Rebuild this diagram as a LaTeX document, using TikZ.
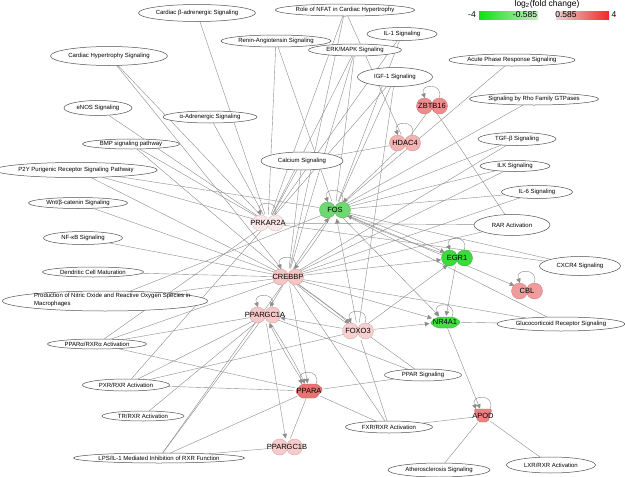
\documentclass[tikz,border=0pt]{standalone}
\usepackage{fontspec}
\setmainfont{Liberation Sans}
\usetikzlibrary{shapes.geometric,arrows.meta,backgrounds}
\definecolor{edgegray}{HTML}{8C8C8C}
\definecolor{ellgray}{HTML}{505050}
\definecolor{cfos}{HTML}{70D870}
\definecolor{cegr}{HTML}{3ADC3A}
\definecolor{cnr}{HTML}{44DD44}
\definecolor{czbtb}{HTML}{EE8C8C}
\definecolor{chdac}{HTML}{F3B3B3}
\definecolor{ccreb}{HTML}{F5C5C5}
\definecolor{cprk}{HTML}{FBE9E9}
\definecolor{cpgc}{HTML}{F6C8C8}
\definecolor{cfoxo}{HTML}{F8D0D0}
\definecolor{cppara}{HTML}{EC7272}
\definecolor{cpgcb}{HTML}{F7CBCB}
\definecolor{ccbl}{HTML}{F19C9C}
\definecolor{capod}{HTML}{EE8080}
\definecolor{lgA}{HTML}{10E010}
\definecolor{lgB}{HTML}{C4EDC4}
\definecolor{lrA}{HTML}{E6D2D2}
\definecolor{lrB}{HTML}{F02828}
\newcommand\pwfont{\fontsize{6}{8}\selectfont}
\newcommand\gnfont{\fontsize{7.5}{8}\selectfont}
\newcommand\pw[6]{\node[pathway, minimum width=#4pt, minimum height=#5pt] (#1) at (#2,-#3) {#6};}
\newcommand\gene[5]{%
  \path[fill=#4, draw=#4!80!black, line width=0.3pt] (#2-7.5,-#3) circle[radius=8] (#2+7.5,-#3) circle[radius=8];
  \node[genebox, label={[genelbl]center:#5}] (#1) at (#2,-#3) {};}
\newcommand\selfloop[2]{\draw[edge,arr] ([shift={(7,#2)}]#1.center) .. controls +(6,15) and +(-6,15) .. ([shift={(-7,#2)}]#1.center);}
\begin{document}
\begin{tikzpicture}[x=1pt,y=1pt,
  pathway/.style={ellipse, draw=ellgray, fill=white, line width=0.5pt, inner sep=0pt, font=\pwfont},
  genebox/.style={ellipse, minimum width=32pt, minimum height=17pt, inner sep=0pt},
  genelbl/.style={font=\gnfont, inner sep=0pt},
  edge/.style={draw=edgegray, line width=0.4pt},
  arr/.style={-{Triangle[length=4.5pt,width=4.5pt]}},
  legtext/.style={font=\fontsize{8.5}{9}\selectfont, inner sep=0pt}]
\useasboundingbox (0,0) rectangle (625,-477);
% pathways
\pw{cbeta}{197}{13}{117}{17}{Cardiac β-adrenergic Signaling}
\pw{nfat}{345}{10}{134}{12}{Role of NFAT in Cardiac Hypertrophy}
\pw{chyp}{109}{56}{117}{19}{Cardiac Hypertrophy Signaling}
\pw{renin}{276}{41}{110}{12}{Renin-Angiotensin Signaling}
\pw{il1}{402}{34}{70}{13}{IL-1 Signaling}
\pw{erk}{355}{50}{93}{12}{ERK/MAPK Signaling}
\pw{igf}{395}{77}{75}{19}{IGF-1 Signaling}
\pw{acute}{512}{60}{125}{12}{Acute Phase Response Signaling}
\pw{enos}{98}{108}{68}{15}{eNOS Signaling}
\pw{alpha}{210}{117}{94}{12}{α-Adrenergic Signaling}
\pw{rho}{534}{99}{128}{12}{Signaling by Rho Family GTPases}
\pw{bmp}{131}{144}{97}{10}{BMP signaling pathway}
\pw{tgfb}{517}{139}{78}{13}{TGF-β Signaling}
\pw{calcium}{302}{161}{82}{18}{Calcium Signaling}
\pw{p2y}{76}{170}{152}{15}{P2Y Purigenic Receptor Signaling Pathway}
\pw{ilk}{515}{166}{70}{11}{ILK Signaling}
\pw{il6}{537}{192}{71}{13}{IL-6 Signaling}
\pw{wnt}{78}{203}{99}{11}{Wnt/β-catenin Signaling}
\pw{rar}{512}{225}{76}{21}{RAR Activation}
\pw{nfkb}{83}{238}{79}{13}{NF-κB Signaling}
\pw{cxcr4}{580}{266}{81}{19}{CXCR4 Signaling}
\pw{dend}{93}{272}{101}{10}{Dendritic Cell Maturation}
\pw{prod}{105}{301}{205}{20}{}
\node[font=\pwfont, inner sep=0pt, anchor=north west, align=left] (prodlbl) at (34,-293) {Production of Nitric Oxide and Reactive Oxygen Species in\\Macrophages};
\pw{gluc}{561}{324}{126}{14}{Glucocorticoid Receptor Signaling}
\pw{pparax}{97}{344}{99}{10}{PPARα/RXRα Activation}
\pw{pparsig}{423}{375}{77}{12}{PPAR Signaling}
\pw{pxr}{126}{385}{87}{12}{PXR/RXR Activation}
\pw{tr}{143}{416}{82}{10}{TR/RXR Activation}
\pw{fxr}{389}{427}{87}{12}{FXR/RXR Activation}
\pw{lps}{159}{458}{155}{10}{LPS/IL-1 Mediated Inhibition of RXR Function}
\pw{lxr}{551}{465}{89}{16}{LXR/RXR Activation}
\pw{athero}{439}{470}{102}{14}{Atherosclerosis Signaling}
% genes
\gene{zbtb16}{432}{106}{czbtb}{ZBTB16}
\gene{hdac4}{405}{143}{chdac}{HDAC4}
\gene{fos}{335}{210}{cfos}{FOS}
\gene{prkar2a}{268}{223}{cprk}{PRKAR2A}
\gene{egr1}{457}{258}{cegr}{EGR1}
\gene{crebbp}{288}{277}{ccreb}{CREBBP}
\gene{cbl}{527}{291}{ccbl}{CBL}
\gene{ppargc1a}{265}{315}{cpgc}{PPARGC1A}
\gene{foxo3}{358}{331}{cfoxo}{FOXO3}
\gene{ppargc1b}{287}{447}{cpgcb}{PPARGC1B}
\fill[cppara, draw=cppara!80!black, line width=0.3pt, rounded corners=1.5pt] (295,-391) -- (302,-384) -- (317,-384) -- (323,-389) -- (316,-398) -- (301,-398) -- cycle;
\node[genebox, minimum width=30pt, minimum height=15pt, label={[genelbl]center:PPARA}] (ppara) at (309,-391) {};
\fill[cnr, draw=cnr!80!black, line width=0.3pt, rounded corners=2pt] (430,-323) -- (437,-317) -- (454,-317) -- (461,-322) -- (454,-328) -- (437,-328) -- cycle;
\node[genebox, minimum width=32pt, minimum height=12pt, label={[genelbl]center:NR4A1}] (nr4a1) at (445,-322) {};
\fill[capod, draw=capod!80!black, line width=0.3pt, rounded corners=2pt] (474,-409) -- (492,-409) -- (488,-422) -- (478,-422) -- cycle;
\node[genebox, minimum width=20pt, minimum height=15pt, label={[genelbl]center:APOD}] (apod) at (483,-416) {};
% legend
\shade[left color=lgA, right color=lgB] (479,-11) rectangle (538,-19);
\shade[left color=lrA, right color=lrB] (556,-11) rectangle (609,-19);
\node[legtext] (legtitle) at (547,-4) {log\textsubscript{2}(fold change)};
\node[legtext] (legm4) at (472,-15) {-4};
\node[legtext] (legmlo) at (525,-15) {-0.585};
\node[legtext] (legplo) at (566,-15) {0.585};
\node[legtext] (legp4) at (614,-15) {4};
% edges
\begin{pgfonlayer}{background}
\fill[white] (0,0) rectangle (625,-477);
\foreach \a/\b in {cbeta/prkar2a, chyp/prkar2a, chyp/crebbp, enos/prkar2a, bmp/prkar2a, bmp/crebbp,
  alpha/prkar2a, nfat/prkar2a, nfat/hdac4, nfat/crebbp, renin/prkar2a, renin/fos,
  erk/prkar2a, erk/crebbp, erk/fos, il1/prkar2a, il1/fos, igf/prkar2a, igf/fos, igf/foxo3,
  calcium/prkar2a, calcium/crebbp, calcium/hdac4, acute/fos, rho/fos, tgfb/fos, tgfb/crebbp,
  ilk/fos, ilk/crebbp, il6/fos, il6/crebbp, rar/prkar2a, rar/crebbp, rar/zbtb16,
  cxcr4/prkar2a, cxcr4/fos, gluc/fos, gluc/crebbp, gluc/nr4a1,
  p2y/fos, p2y/prkar2a, p2y/crebbp, wnt/crebbp, nfkb/crebbp, dend/crebbp, prod/fos, prod/crebbp,
  pparax/prkar2a, pparax/crebbp, pparax/ppara, pparax/ppargc1a,
  pxr/prkar2a, pxr/ppargc1a, pxr/foxo3, pxr/ppara, tr/ppargc1a,
  lps/ppargc1a, lps/ppara, lps/ppargc1b, lps/crebbp,
  pparsig/ppara, pparsig/crebbp, pparsig/ppargc1a,
  fxr/ppara, fxr/foxo3, fxr/apod, fxr/crebbp, athero/apod, lxr/apod,
  zbtb16/hdac4, ppargc1b/ppara}
  \draw[edge] (\a) -- (\b);
\foreach \a/\b in {hdac4/fos, crebbp/egr1, foxo3/egr1, foxo3/fos, crebbp/ppargc1a, crebbp/nr4a1,
  fos/nr4a1, egr1/nr4a1, foxo3/nr4a1, nr4a1/apod, ppargc1a/ppargc1b, foxo3/ppargc1a,
  crebbp/ppara, fos/cbl}
  \draw[edge,arr] (\a) -- (\b);
\draw[edge,arr] (egr1) to[bend left=3] (fos);
\draw[edge,arr] (fos) to[bend left=3] (egr1);
\draw[edge,arr] (crebbp) to[bend left=3] (fos);
\draw[edge,arr] (fos) to[bend left=3] (crebbp);
\draw[edge,arr] (crebbp) to[bend left=3] (foxo3);
\draw[edge] (crebbp) to[bend right=3] (foxo3);
\draw[edge,arr] (ppargc1a) to[bend left=3] (ppara);
\draw[edge,arr] (ppara) to[bend left=3] (ppargc1a);
\selfloop{fos}{8}
\selfloop{crebbp}{8}
\selfloop{prkar2a}{8}
\selfloop{hdac4}{8}
\selfloop{zbtb16}{8}
\selfloop{egr1}{8}
\selfloop{cbl}{8}
\selfloop{foxo3}{8}
\selfloop{ppargc1a}{8}
\selfloop{ppara}{7}
\selfloop{nr4a1}{5.5}
\selfloop{apod}{7}
\end{pgfonlayer}
\end{tikzpicture}
\end{document}
